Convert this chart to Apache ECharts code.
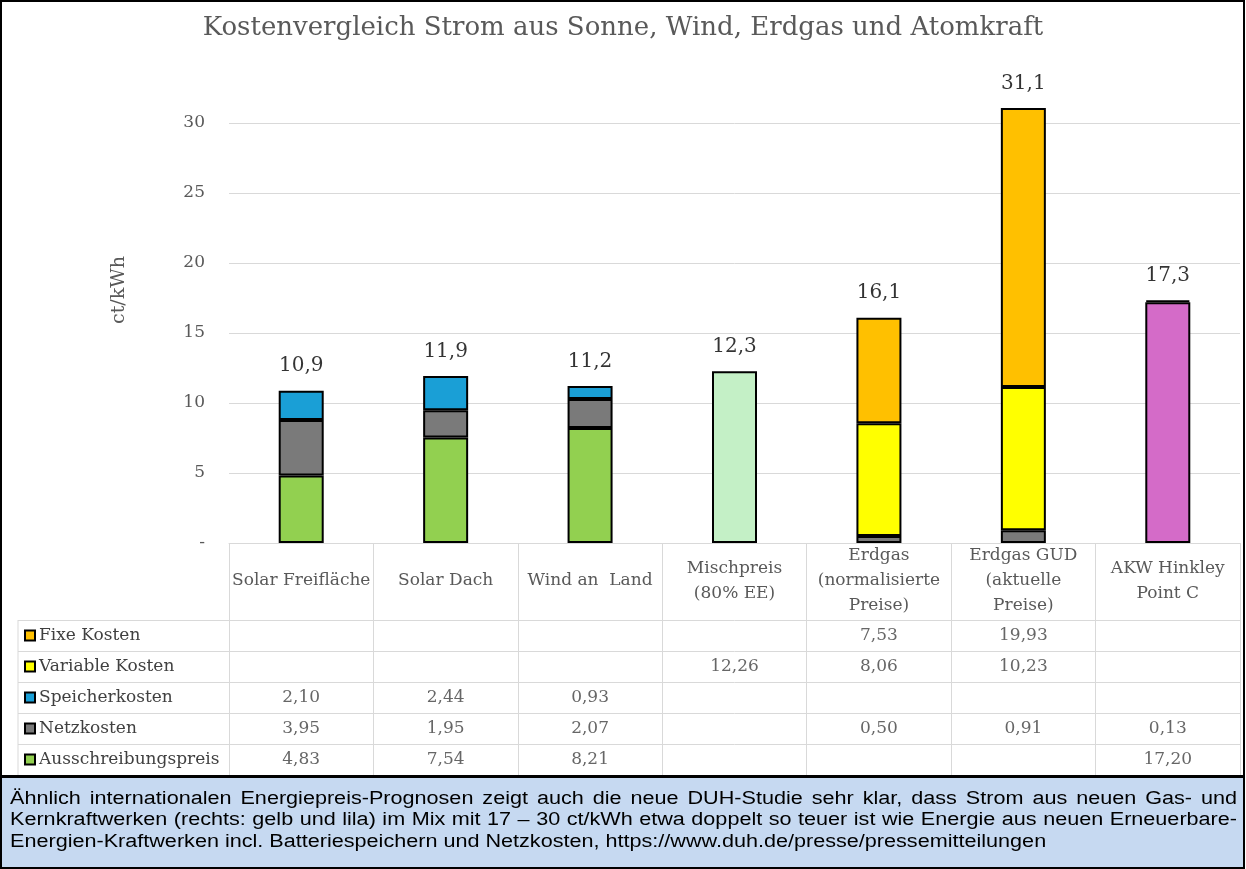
<!DOCTYPE html>
<html><head><meta charset="utf-8">
<script src="https://cdn.jsdelivr.net/npm/echarts@6/dist/echarts.min.js"></script>
<style>html,body{margin:0;padding:0;background:#fff}#c{width:1246px;height:869px}</style>
</head><body><div id="c"></div>
<script>
const categories = ['Solar Freifläche','Solar Dach','Wind an  Land','Mischpreis\n(80% EE)','Erdgas\n(normalisierte\nPreise)','Erdgas GUD\n(aktuelle\nPreise)','AKW Hinkley\nPoint C'];
const rowNames = ['Fixe Kosten','Variable Kosten','Speicherkosten','Netzkosten','Ausschreibungspreis'];
const fixeKosten = [null,null,null,null,7.53,19.93,null];
const variableKosten = [null,null,null,12.26,8.06,10.23,null];
const speicherKosten = [2.10,2.44,0.93,null,null,null,null];
const netzKosten = [3.95,1.95,2.07,null,0.50,0.91,0.13];
const ausschreibungspreis = [4.83,7.54,8.21,null,null,null,17.20];
const yTicks = [0,5,10,15,20,25,30];
const titleText = 'Kostenvergleich Strom aus Sonne, Wind, Erdgas und Atomkraft';
const captionLines = [
 'Ähnlich internationalen Energiepreis-Prognosen zeigt auch die neue DUH-Studie sehr klar, dass Strom aus neuen Gas- und',
 'Kernkraftwerken (rechts: gelb und lila) im Mix mit 17 – 30 ct/kWh etwa doppelt so teuer ist wie Energie aus neuen Erneuerbare-',
 'Energien-Kraftwerken incl. Batteriespeichern und Netzkosten, https://www.duh.de/presse/pressemitteilungen'
];

const SERIF = "'DejaVu Serif', 'Liberation Serif', serif";
const colors = {fixe:'#FFC000', variable:'#FFFF00', speicher:'#1A9FD6', netz:'#7A7A7A', aus:'#92D050'};
const rowColors = [colors.fixe, colors.variable, colors.speicher, colors.netz, colors.aus];
const rowArrays = [fixeKosten, variableKosten, speicherKosten, netzKosten, ausschreibungspreis];
const special = {variable:{3:'#C4F0C6'}, aus:{6:'#D46BC8'}, netz:{6:'#1A1A1A'}};

function mk(name, arr, key){
  return {
    name, type:'bar', stack:'total', xAxisIndex:0, yAxisIndex:0, barWidth:45,
    itemStyle:{color:colors[key], borderColor:'#000', borderWidth:2},
    data: arr.map((v,i)=> v==null ? '-' : (special[key] && special[key][i] ? {value:v, itemStyle:{color:special[key][i]}} : v))
  };
}
const totals = categories.map((c,i)=> rowArrays.reduce((s,a)=> s + (a[i]||0), 0));
const tableData = [];
rowArrays.forEach((arr,r)=> arr.forEach((v,c)=>{ if(v!=null) tableData.push([c, r, v]); }));

const rich = {};
rowNames.forEach((n,i)=>{
  rich['b'+i] = {width:8, height:8, backgroundColor:rowColors[i], borderColor:'#000', borderWidth:2};
  rich['t'+i] = {fontFamily:SERIF, fontSize:17, color:'#404040', padding:[0,0,0,5]};
});
const splitColors = yTicks.map(()=> '#D9D9D9').concat(['rgba(0,0,0,0)']);

// caption layout (justified lines, like the source text box)
const CAP_FONT = "18px 'Liberation Sans', Arial, sans-serif";
const CAP_SX = 1.2, CAP_X = 10, CAP_W = 1227, CAP_Y = [799, 820.5, 842];
const mctx = document.createElement('canvas').getContext('2d');
mctx.font = CAP_FONT;
const captionGraphics = [];
captionLines.forEach((line, li)=>{
  const words = line.split(' ');
  const ws = words.map(w=> mctx.measureText(w).width * CAP_SX);
  const sum = ws.reduce((a,b)=>a+b,0);
  const justify = li < captionLines.length - 1;
  let gap = mctx.measureText(' ').width * CAP_SX;
  if (justify && words.length > 1) gap = (CAP_W - sum) / (words.length - 1);
  let x = CAP_X;
  words.forEach((w,i)=>{
    captionGraphics.push({type:'text', x:x, y:CAP_Y[li], scaleX:CAP_SX, z:110,
      style:{text:w, font:CAP_FONT, fill:'#000', verticalAlign:'middle', align:'left'}});
    x += ws[i] + gap;
  });
});

const chart = echarts.init(document.getElementById('c'));
chart.setOption({
  animation:false,
  title:{text:titleText, left:'center', top:10, textStyle:{fontFamily:SERIF, fontSize:26, fontWeight:'normal', color:'#595959'}},
  grid:[{left:229, right:6, top:53, bottom:326},{left:229, right:6, top:620, bottom:94}],
  xAxis:[
    {type:'category', gridIndex:0, data:categories,
     axisLine:{lineStyle:{color:'#D9D9D9', width:1}},
     axisTick:{show:true, length:77, alignWithLabel:false, lineStyle:{color:'#D9D9D9'}},
     axisLabel:{interval:0, margin:38, verticalAlign:'middle', lineHeight:25, fontFamily:SERIF, fontSize:17, color:'#595959'}},
    {type:'category', gridIndex:1, data:categories, axisLine:{show:false}, axisTick:{show:false}, axisLabel:{show:false},
     splitLine:{show:true, lineStyle:{color:'#D9D9D9'}}}
  ],
  yAxis:[
    {type:'value', gridIndex:0, min:0, max:35, interval:5,
     name:'ct/kWh', nameLocation:'middle', nameRotate:90, nameGap:100,
     nameTextStyle:{fontFamily:SERIF, fontSize:19, color:'#595959', padding:[0,0,0,16]},
     axisLine:{show:false}, axisTick:{show:false},
     axisLabel:{margin:24, fontFamily:SERIF, fontSize:17, color:'#595959', formatter:v=> v===0?'-':(yTicks.indexOf(v)>=0?String(v):'')},
     splitLine:{show:true, lineStyle:{color:splitColors, width:1}}},
    {type:'category', gridIndex:1, data:rowNames, inverse:true,
     axisLine:{show:true, lineStyle:{color:'#D9D9D9'}},
     axisTick:{show:true, length:211, alignWithLabel:false, lineStyle:{color:'#D9D9D9'}},
     axisLabel:{align:'left', margin:203, formatter:(v,i)=> '{b'+i+'|}{t'+i+'|'+v+'}', rich},
     splitLine:{show:true, lineStyle:{color:'#D9D9D9'}}}
  ],
  graphic:[
    {type:'rect', shape:{x:1, y:1, width:1243, height:775}, style:{fill:'none', stroke:'#000', lineWidth:2}, z:100},
    {type:'line', shape:{x1:18, y1:620, x2:18, y2:775}, style:{stroke:'#D9D9D9', lineWidth:1}},
    {type:'rect', shape:{x:1, y:777, width:1243, height:91}, style:{fill:'#C6D9F1', stroke:'#000', lineWidth:2}, z:100}
  ].concat(captionGraphics),
  series:[
    mk('Ausschreibungspreis', ausschreibungspreis, 'aus'),
    mk('Netzkosten', netzKosten, 'netz'),
    mk('Speicherkosten', speicherKosten, 'speicher'),
    mk('Variable Kosten', variableKosten, 'variable'),
    mk('Fixe Kosten', fixeKosten, 'fixe'),
    {type:'scatter', xAxisIndex:0, yAxisIndex:0, symbolSize:1, itemStyle:{color:'rgba(0,0,0,0)'},
     data: totals, silent:true,
     label:{show:true, position:'top', distance:14, fontFamily:SERIF, fontSize:20, color:'#000',
            formatter:p=> p.value.toFixed(1).replace('.',',')}},
    {type:'scatter', xAxisIndex:1, yAxisIndex:1, symbolSize:1, itemStyle:{color:'rgba(0,0,0,0)'},
     data: tableData, silent:true,
     label:{show:true, position:'inside', fontFamily:SERIF, fontSize:17, color:'#404040',
            formatter:p=> p.data[2].toFixed(2).replace('.',',')}}
  ]
});
</script></body></html>
